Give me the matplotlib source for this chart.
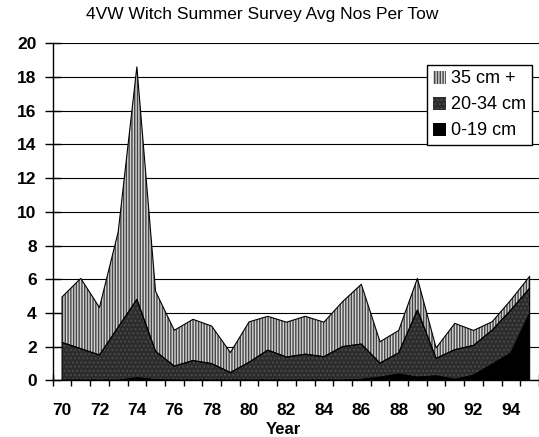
import numpy as np
import matplotlib
matplotlib.use("Agg")
import matplotlib.pyplot as plt
from matplotlib.patches import Patch

plt.rcParams['font.family'] = ['Liberation Sans', 'DejaVu Sans']
plt.rcParams['hatch.linewidth'] = 1.0

# survey years 1970-1995, avg numbers per tow by size class
years = ["70", "71", "72", "73", "74", "75", "76", "77", "78", "79", "80", "81", "82",
         "83", "84", "85", "86", "87", "88", "89", "90", "91", "92", "93", "94", "95"]
ns_0_19 = [0, 0, 0, 0, 0.15, 0.03, 0, 0, 0, 0, 0, 0, 0,
           0, 0, 0, 0.05, 0.18, 0.37, 0.18, 0.26, 0.05, 0.3, 0.95, 1.62, 3.95]
ns_20_34 = [2.24, 1.88, 1.5, 3.15, 4.65, 1.69, 0.84, 1.17, 0.99, 0.46, 1.07, 1.79, 1.38,
            1.55, 1.4, 2.0, 2.1, 0.84, 1.26, 3.99, 1.04, 1.77, 1.77, 2.03, 2.55, 1.51]
ns_35 = [2.71, 4.17, 2.82, 5.65, 13.8, 3.56, 2.13, 2.45, 2.23, 1.19, 2.4, 2.01, 2.07,
         2.25, 2.05, 2.67, 3.55, 1.27, 1.33, 1.88, 0.62, 1.56, 0.89, 0.5, 0.6, 0.71]
labels = ["35 cm +", "20-34 cm", "0-19 cm"]

x = np.arange(len(years))
b0 = np.zeros(len(years))
b1 = b0 + np.array(ns_0_19)
b2 = b1 + np.array(ns_20_34)
b3 = b2 + np.array(ns_35)

stripe_face, stripe_hatch = "#d4d4d4", "#454545"
dark_face, dark_hatch = "#2c2c2c", "#4a4a4a"

fig = plt.figure(figsize=(5.39, 4.37), dpi=100)
ax = fig.add_axes([52.7/539, 0.1297, 1 - 52.7/539, 0.9009 - 0.1297])

# fills (hatch colour comes from edgecolor, so outlines drawn separately)
ax.fill_between(x, b2, b3, facecolor=stripe_face, edgecolor=stripe_hatch, hatch="||||||", lw=0)
ax.fill_between(x, b1, b2, facecolor=dark_face, edgecolor=dark_hatch, hatch="....", lw=0)
ax.fill_between(x, b0, b1, facecolor="black", lw=0)
for lo, hi in [(b2, b3), (b1, b2), (b0, b1)]:
    ax.fill_between(x, lo, hi, facecolor="none", edgecolor="black", lw=0.8)

ax.set_xlim(-0.5, -0.5 + (539 - 52.7)/18.9)
ax.set_ylim(0, 20)
ax.set_yticks(np.arange(0, 21, 2))
ax.yaxis.grid(True, color="black", lw=0.8)
ax.set_axisbelow(True)

# ticks between categories, labels on every other category
ax.set_xticks(np.arange(-0.5, len(years), 1))
ax.set_xticklabels([])
ax.set_xticks(x[::2], minor=True)
ax.set_xticklabels(years[::2], minor=True)
ax.tick_params(axis="x", which="major", direction="inout", length=9, width=1)
ax.tick_params(axis="x", which="minor", length=0, pad=16, labelsize=12.5)
ax.tick_params(axis="y", direction="inout", length=11, width=1, pad=6, labelsize=12.5)
for t in ax.get_xticklabels(minor=True) + ax.get_yticklabels():
    t.set_fontweight("bold")

for s in ["top", "right"]:
    ax.spines[s].set_visible(False)
for s in ["left", "bottom"]:
    ax.spines[s].set_linewidth(1)

fig.text(262/539, 1 - 14/437, "4VW Witch Summer Survey Avg Nos Per Tow",
         ha="center", va="center", fontsize=12.5)
fig.text(283/539, 1 - 430/437, "Year", ha="center", va="center",
         fontsize=12, fontweight="bold")

handles = [Patch(facecolor=stripe_face, edgecolor=stripe_hatch, hatch="||||||", lw=0),
           Patch(facecolor=dark_face, edgecolor=dark_hatch, hatch="....", lw=0),
           Patch(facecolor="black", lw=0)]
leg = ax.legend(handles, labels, loc="upper right", bbox_to_anchor=(0.985, 0.9356),
                borderaxespad=0, fancybox=False, framealpha=1, edgecolor="black",
                fontsize=13, handlelength=0.72, handleheight=0.72, handletextpad=0.3,
                labelspacing=0.5, borderpad=0.3)
leg.get_frame().set_linewidth(1)

fig.savefig("out.png", dpi=100)
